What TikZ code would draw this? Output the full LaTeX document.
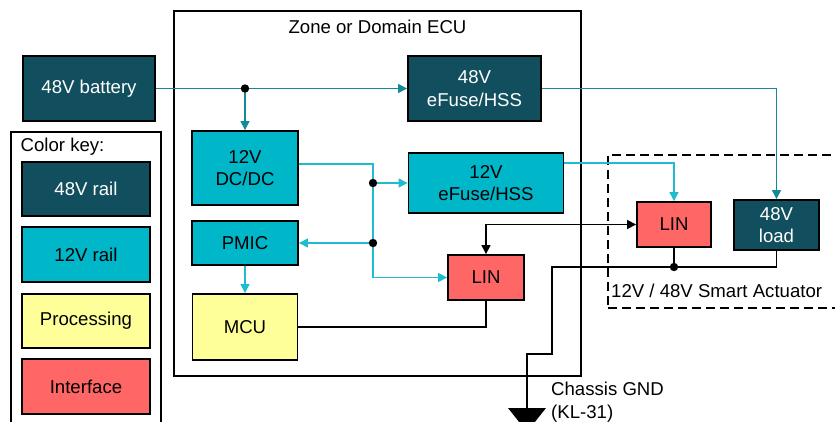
\documentclass[tikz,border=0pt]{standalone}
\usepackage{fontspec}
\setmainfont{Liberation Sans}
\usetikzlibrary{positioning,arrows.meta}
\definecolor{rail48}{HTML}{124F5E}
\definecolor{rail12}{HTML}{00B6C9}
\definecolor{procyel}{HTML}{FFFF99}
\definecolor{intfred}{HTML}{FF6666}
\definecolor{wire48c}{HTML}{138A9A}
\definecolor{wire12c}{HTML}{1FBCCF}
\tikzset{>={Triangle[length=9pt,width=9pt]}}
\tikzset{txt/.style={font=\fontsize{18.6}{22.5}\selectfont}}
\tikzset{blk/.style={txt, draw=black, line width=1.8pt, align=center, inner sep=2pt}}
\tikzset{r48/.style={blk, fill=rail48, text=white}}
\tikzset{r12/.style={blk, fill=rail12}}
\tikzset{proc/.style={blk, fill=procyel}}
\tikzset{intf/.style={blk, fill=intfred}}
\tikzset{frame/.style={draw, line width=2pt, inner sep=0pt}}
\tikzset{lbl/.style={txt, inner sep=0pt}}
\tikzset{w48/.style={draw=wire48c, line width=1.1pt}}
\tikzset{w12/.style={draw=wire12c, line width=1.1pt}}
\tikzset{wsig/.style={draw=black, line width=1.1pt}}
\newcommand{\jdot}[1]{\fill (#1) circle (4.2pt);}

\begin{document}
\begin{tikzpicture}[x=1pt, y=-1pt]
  \useasboundingbox (0,0) rectangle (835,422);
  \clip (0,0) rectangle (835,422);
  % frames
  \node[frame, minimum width=407pt, minimum height=365pt] (ecu) at (377.5,193.5) {};
  \node[lbl] (ecul) at (377.5,27) {Zone or Domain ECU};
  \node[frame, minimum width=150pt, minimum height=328pt] (key) at (86,296) {};
  \node[lbl, anchor=west] (keyl) at (20.5,147) {Color key:};
  \node[frame, dashed, dash pattern=on 9pt off 5pt, minimum width=252pt, minimum height=153pt] (act) at (734,231.5) {};
  \node[lbl, anchor=west] (actl) at (611,290.5) {12V / 48V Smart Actuator};
%
  % color key
  \node[r48, minimum width=128pt, minimum height=54pt] (k48) at (86,189) {48V rail};
  \node[r12, minimum width=128pt, minimum height=55pt] (k12) at (86,254.5) {12V rail};
  \node[proc, minimum width=128pt, minimum height=54pt] (kproc) at (86,321) {Processing};
  \node[intf, minimum width=128pt, minimum height=55pt] (kintf) at (86,386.5) {Interface};
%
  % blocks
  \node[r48, minimum width=132pt, minimum height=65pt] (batt) at (89,88.5) {48V battery};
  \node[r48, minimum width=133pt, minimum height=65pt] (efuse48) at (474.5,88.5) {48V\\eFuse/HSS};
  \node[r12, minimum width=106pt, minimum height=74pt] (dcdc) at (245,168) {12V\\DC/DC};
  \node[r12, minimum width=106pt, minimum height=44pt] (pmic) at (245,243) {PMIC};
  \node[proc, minimum width=105pt, minimum height=66pt] (mcu) at (245,327) {MCU};
  \node[r12, minimum width=155pt, minimum height=60pt] (efuse12) at (486,183) {12V\\eFuse/HSS};
  \node[intf, minimum width=76pt, minimum height=45pt] (linecu) at (486,277.5) {LIN};
  \node[intf, minimum width=74pt, minimum height=45pt] (linact) at (674,224.5) {LIN};
  \node[r48, minimum width=85pt, minimum height=50pt] (load) at (776.5,225) {48V\\load};
  \node[lbl, align=left, anchor=west] (gndl) at (551,402) {Chassis GND\\(KL-31)};
%
  \coordinate (j1) at (245,88.5);
  \coordinate (j2) at (373,183);
  \coordinate (j3) at (373,243);
  \coordinate (jg) at (674,267);
  \coordinate (gnd) at (527,408);
%
  % 48V rail
  \draw[w48, ->] (batt.east) -- (efuse48.west);
  \draw[w48, ->] (j1) -- (dcdc.north);
  \draw[w48, ->] (efuse48.east) -| (load.north);
  % 12V rail
  \draw[w12, ->] ([yshift=4pt]dcdc.east) -| (j3) |- (linecu.west);
  \draw[w12, ->] (j2) -- (efuse12.west);
  \draw[w12, ->] (j3) -- (pmic.east);
  \draw[w12, ->] ([yshift=20pt]efuse12.east) -| (linact.north);
  \draw[w12, ->] (pmic.south) -- (mcu.north);
  % LIN and ground
  \draw[wsig] (mcu.east) -| (linecu.south);
  \draw[wsig, <->] (linecu.north) |- (linact.west);
  \draw[wsig] (linact.south) -- (jg);
  \draw[wsig] (load.south) |- (jg) -- ++(-122,0) -- ++(0,87) -| (gnd);
  \fill (gnd) ++(-19,0) -- ++(38,0) -- ++(-19,24) -- cycle;
%
  \jdot{j1} \jdot{j2} \jdot{j3} \jdot{jg}
\end{tikzpicture}
\end{document}
